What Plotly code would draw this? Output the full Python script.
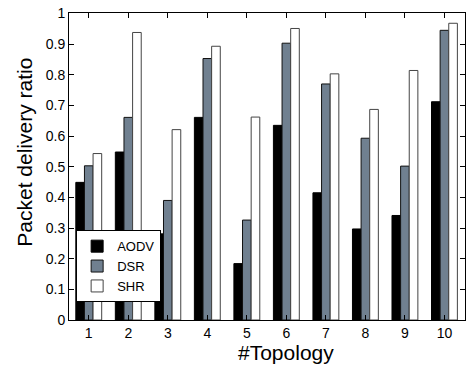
import plotly.graph_objects as go

topology = [1, 2, 3, 4, 5, 6, 7, 8, 9, 10]
aodv = [0.449, 0.548, 0.281, 0.661, 0.184, 0.635, 0.415, 0.297, 0.341, 0.712]
dsr = [0.503, 0.661, 0.390, 0.853, 0.326, 0.903, 0.770, 0.593, 0.502, 0.945]
shr = [0.543, 0.938, 0.621, 0.893, 0.662, 0.951, 0.803, 0.687, 0.814, 0.968]
series_names = ["AODV", "DSR", "SHR"]
y_ticks = [0, 0.1, 0.2, 0.3, 0.4, 0.5, 0.6, 0.7, 0.8, 0.9, 1]

FONT = "Liberation Sans, Arial, sans-serif"

fig = go.Figure()
fig.add_trace(go.Bar(x=topology, y=aodv, name=series_names[0],
                     marker=dict(color="#000000", line=dict(color="#000000", width=1))))
fig.add_trace(go.Bar(x=topology, y=dsr, name=series_names[1],
                     marker=dict(color="#708090", line=dict(color="#111111", width=1))))
fig.add_trace(go.Bar(x=topology, y=shr, name=series_names[2],
                     marker=dict(color="#ffffff", line=dict(color="#444444", width=1))))

axis_common = dict(showline=True, linecolor="black", linewidth=1, mirror="ticks",
                   ticks="inside", ticklen=5, tickcolor="black", showgrid=False,
                   zeroline=False, tickfont=dict(family=FONT, size=14, color="black"))

fig.update_layout(
    width=471, height=365,
    margin=dict(l=69, r=5, t=8, b=45),
    paper_bgcolor="white", plot_bgcolor="white",
    barmode="group", bargap=0.345, bargroupgap=0,
    showlegend=True,
    legend=dict(x=0.018, y=0.058, xanchor="left", yanchor="bottom",
                bgcolor="white", bordercolor="black", borderwidth=1,
                font=dict(family=FONT, size=13, color="black"),
                tracegroupgap=0, itemwidth=30),
    xaxis=dict(range=[0.5, 10.52], tickvals=topology, **axis_common),
    yaxis=dict(range=[0, 1.0015], tickvals=y_ticks, ticktext=[str(v) for v in y_ticks],
               **axis_common),
    annotations=[
        dict(text="Packet delivery ratio", xref="paper", yref="paper",
             x=-0.111, y=0.545, textangle=-90, showarrow=False,
             xanchor="center", yanchor="middle",
             font=dict(family=FONT, size=21, color="black")),
        dict(text="#Topology", xref="paper", yref="paper",
             x=0.547, y=-0.106, showarrow=False, xanchor="center", yanchor="middle",
             font=dict(family=FONT, size=21, color="black")),
    ],
)

fig.write_html("out.html")
